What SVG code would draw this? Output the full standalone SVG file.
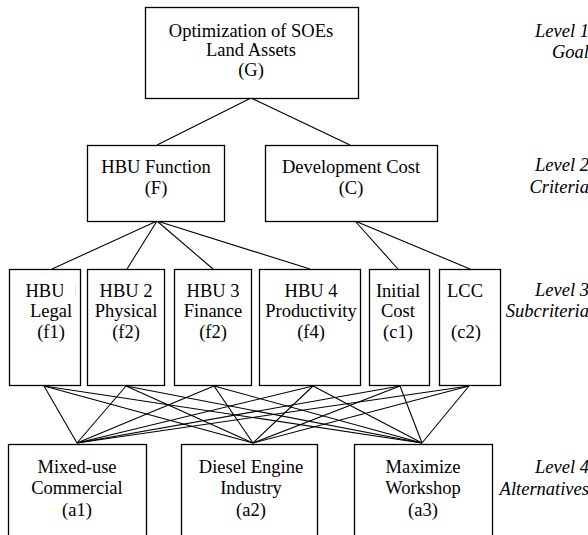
<svg xmlns="http://www.w3.org/2000/svg" width="588" height="535" viewBox="0 0 588 535">
<style>
.box{fill:#fff;stroke:#000;stroke-width:1.3}
text{font-family:'Liberation Serif','DejaVu Serif',serif;font-size:18.5px;fill:#000}
.t{text-anchor:middle}
.lv{font-style:italic;text-anchor:end}
.c line{stroke:#000;stroke-width:1.1}
</style>
<defs>
<clipPath id="cf1"><rect x="9" y="269" width="54" height="117"/><rect x="75.2" y="269" width="1.3" height="26"/></clipPath>
</defs>
<rect width="588" height="535" fill="#fff"/>
<g class="c" id="connectors">
<line x1="251" y1="98" x2="157" y2="145"/>
<line x1="251" y1="98" x2="350" y2="145"/>
<line x1="157" y1="221" x2="52" y2="269"/>
<line x1="157" y1="221" x2="127" y2="269"/>
<line x1="157" y1="221" x2="213" y2="269"/>
<line x1="157" y1="221" x2="310" y2="269"/>
<line x1="355" y1="221" x2="398" y2="269"/>
<line x1="355" y1="221" x2="470" y2="269"/>
<line x1="44" y1="386" x2="77" y2="443"/>
<line x1="44" y1="386" x2="253" y2="443"/>
<line x1="44" y1="386" x2="422" y2="443"/>
<line x1="126" y1="386" x2="77" y2="443"/>
<line x1="126" y1="386" x2="253" y2="443"/>
<line x1="126" y1="386" x2="422" y2="443"/>
<line x1="214" y1="386" x2="77" y2="443"/>
<line x1="214" y1="386" x2="253" y2="443"/>
<line x1="214" y1="386" x2="422" y2="443"/>
<line x1="313" y1="386" x2="77" y2="443"/>
<line x1="313" y1="386" x2="253" y2="443"/>
<line x1="313" y1="386" x2="422" y2="443"/>
<line x1="400" y1="386" x2="77" y2="443"/>
<line x1="400" y1="386" x2="253" y2="443"/>
<line x1="400" y1="386" x2="422" y2="443"/>
<line x1="469" y1="386" x2="77" y2="443"/>
<line x1="469" y1="386" x2="253" y2="443"/>
<line x1="469" y1="386" x2="422" y2="443"/>
</g>
<g id="G">
<rect class="box" x="145.5" y="7.5" width="213" height="91"/>
<text class="t" x="251" y="37">Optimization of SOEs</text>
<text class="t" x="251" y="56">Land Assets</text>
<text class="t" x="251" y="76">(G)</text>
</g>
<g id="F">
<rect class="box" x="87.5" y="145.5" width="137" height="76"/>
<text class="t" x="156" y="173">HBU Function</text>
<text class="t" x="156" y="194">(F)</text>
</g>
<g id="C">
<rect class="box" x="265.5" y="145.5" width="172" height="76"/>
<text class="t" x="351" y="173">Development Cost</text>
<text class="t" x="351" y="194">(C)</text>
</g>
<g id="f1">
<rect class="box" x="9.5" y="269.5" width="71" height="116"/>
<text x="25.5" y="297" clip-path="url(#cf1)">HBU 1</text>
<text class="t" x="51" y="317">Legal</text>
<text class="t" x="51" y="338">(f1)</text>
</g>
<g id="f2">
<rect class="box" x="87.5" y="269.5" width="77" height="116"/>
<text class="t" x="126" y="297">HBU 2</text>
<text class="t" x="126" y="317">Physical</text>
<text class="t" x="126" y="338">(f2)</text>
</g>
<g id="f3">
<rect class="box" x="174.5" y="269.5" width="77" height="116"/>
<text class="t" x="213" y="297">HBU 3</text>
<text class="t" x="213" y="317">Finance</text>
<text class="t" x="213" y="338">(f2)</text>
</g>
<g id="f4">
<rect class="box" x="259.5" y="269.5" width="101" height="116"/>
<text class="t" x="311" y="297">HBU 4</text>
<text class="t" x="311" y="317">Productivity</text>
<text class="t" x="311" y="338">(f4)</text>
</g>
<g id="c1">
<rect class="box" x="369.5" y="269.5" width="60" height="116"/>
<text class="t" x="398" y="297">Initial</text>
<text class="t" x="398" y="317">Cost</text>
<text class="t" x="398" y="338">(c1)</text>
</g>
<g id="c2">
<rect class="box" x="439.5" y="269.5" width="61" height="116"/>
<text class="t" x="465" y="297">LCC</text>
<text class="t" x="466" y="338">(c2)</text>
</g>
<g id="a1">
<rect class="box" x="8.5" y="444.5" width="138" height="100"/>
<text class="t" x="77" y="473">Mixed-use</text>
<text class="t" x="77" y="494">Commercial</text>
<text class="t" x="77" y="516">(a1)</text>
</g>
<g id="a2">
<rect class="box" x="181.5" y="444.5" width="136" height="100"/>
<text class="t" x="251" y="473">Diesel Engine</text>
<text class="t" x="251" y="494">Industry</text>
<text class="t" x="251" y="516">(a2)</text>
</g>
<g id="a3">
<rect class="box" x="354.5" y="444.5" width="138" height="100"/>
<text class="t" x="423" y="473">Maximize</text>
<text class="t" x="423" y="494">Workshop</text>
<text class="t" x="423" y="516">(a3)</text>
</g>
<g id="levels">
<text class="lv" x="589" y="37">Level 1</text>
<text class="lv" x="589" y="58">Goal</text>
<text class="lv" x="589" y="171">Level 2</text>
<text class="lv" x="589" y="193">Criteria</text>
<text class="lv" x="589" y="296">Level 3</text>
<text class="lv" x="589" y="317">Subcriteria</text>
<text class="lv" x="589" y="473">Level 4</text>
<text class="lv" x="589" y="495">Alternatives</text>
</g>
</svg>
